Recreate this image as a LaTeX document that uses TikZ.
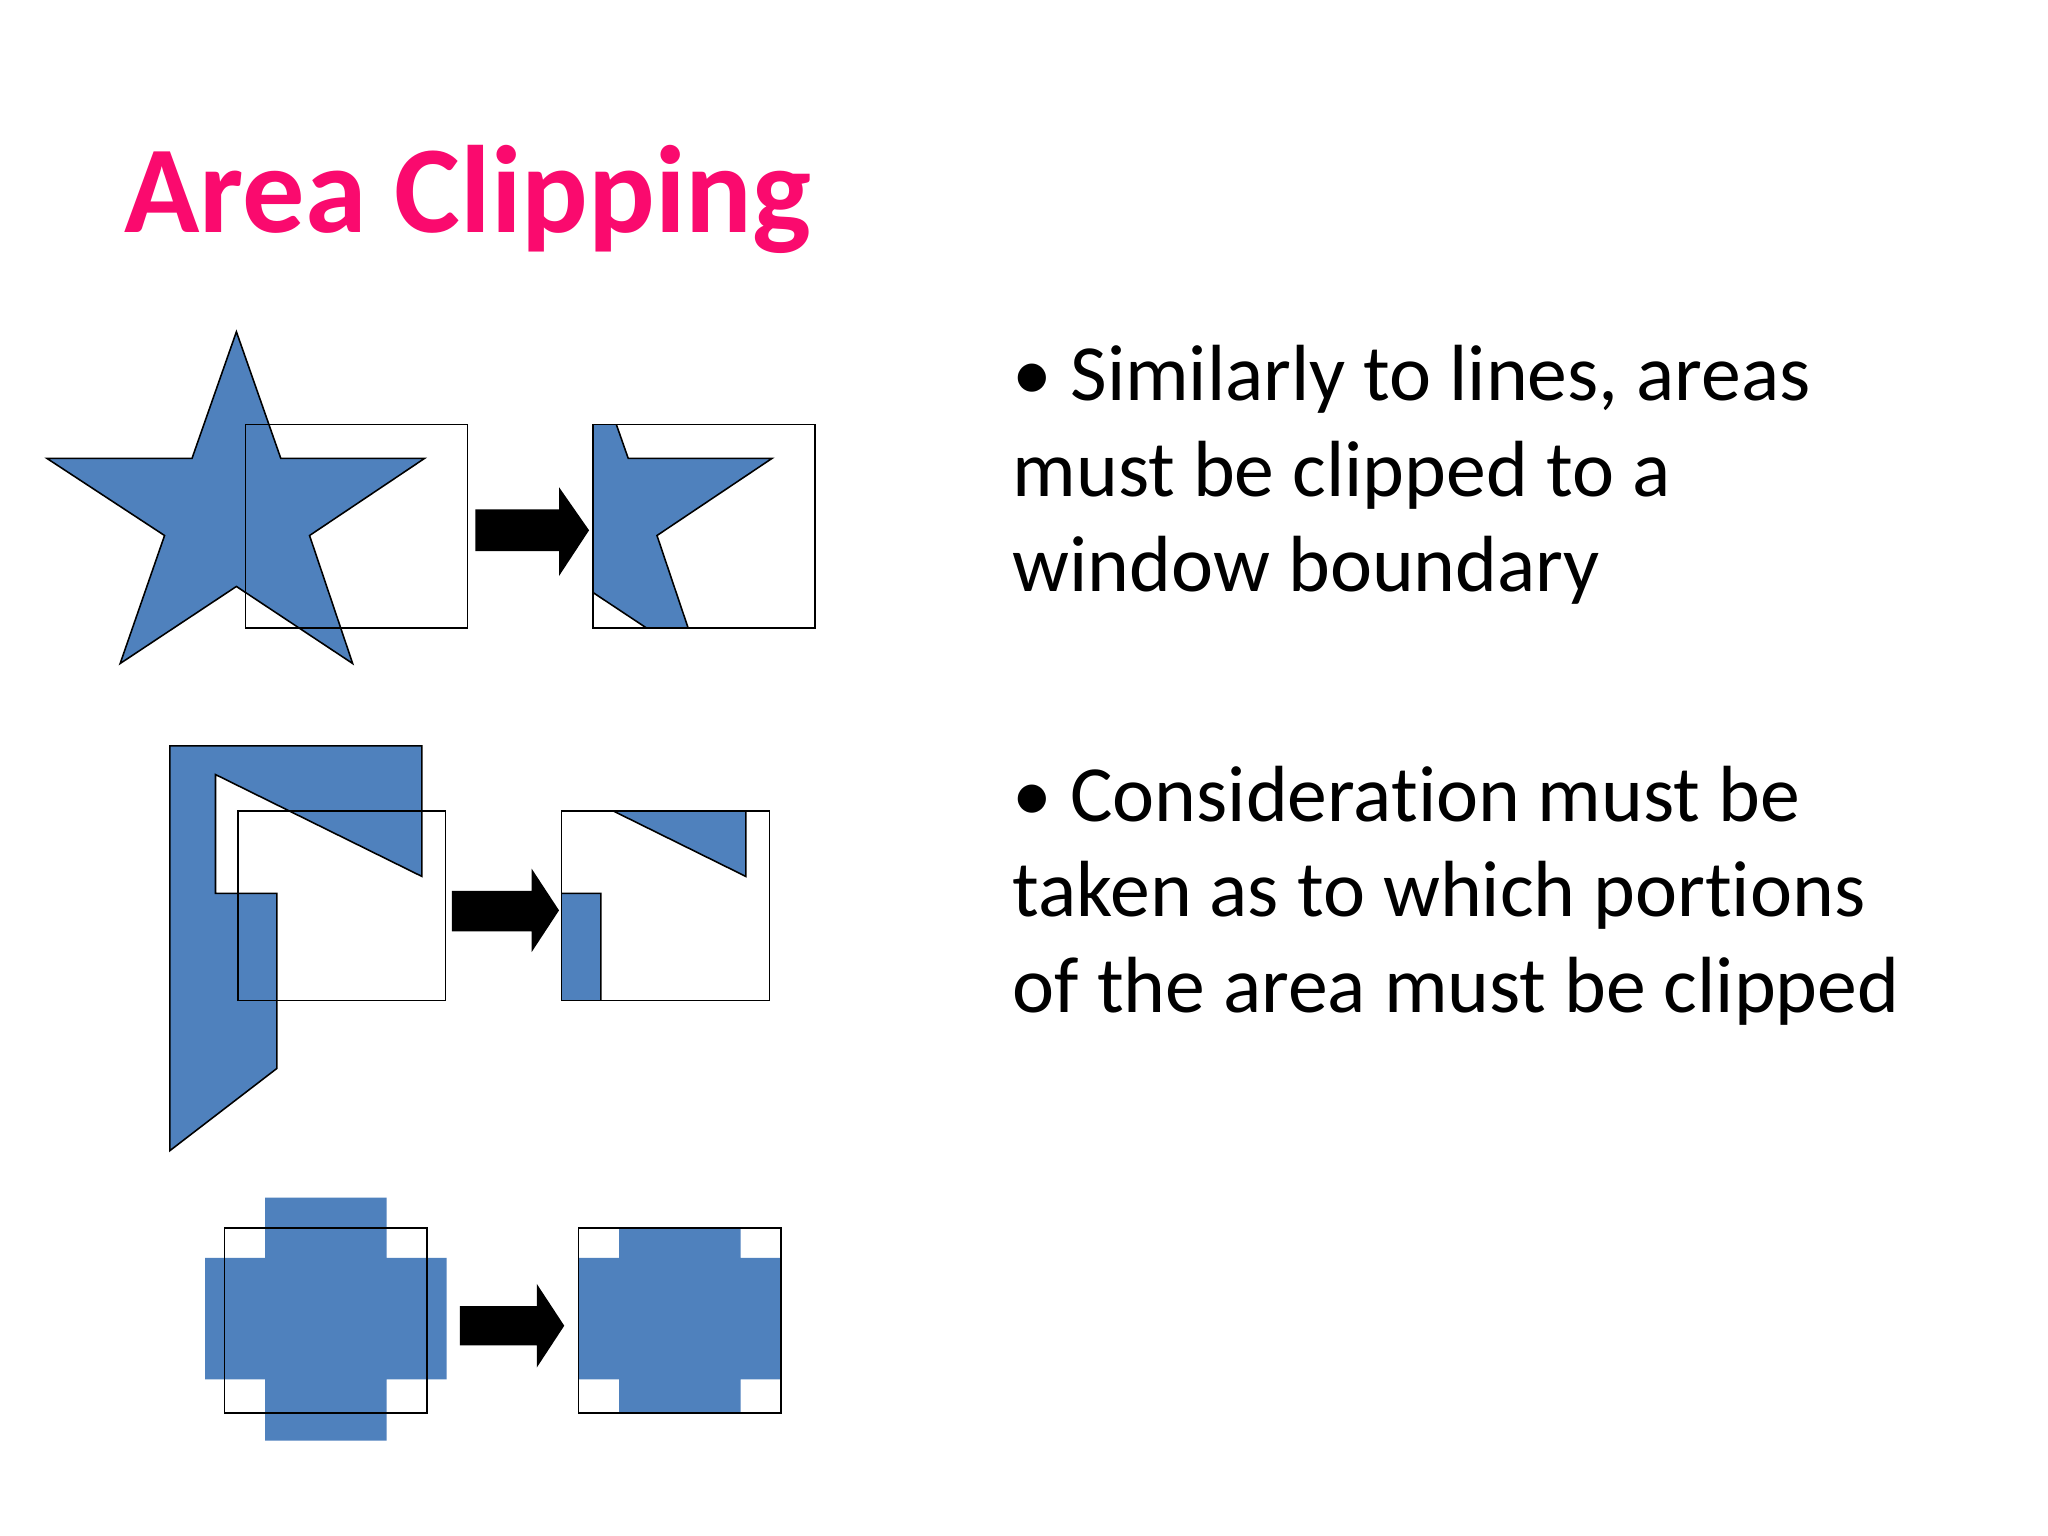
\documentclass[tikz,border=0pt]{standalone}
\usepackage{fontspec}
\setmainfont{Carlito}[Ligatures=NoCommon]
\definecolor{shp}{RGB}{79,129,189}
\definecolor{ttl}{RGB}{250,10,110}
\begin{document}
\begin{tikzpicture}[x=0.5pt,y=-0.5pt,
  win/.style={draw=black,line width=0.6pt},
  fillshape/.style={fill=shp,draw=black,line width=0.6pt},
  txt/.style={anchor=base west,inner sep=0,font=\fontsize{30.5}{36.5}\selectfont},
  bigarrow/.style={fill=black}]
\useasboundingbox (0,0) rectangle (1568,1176);
\fill[white] (0,0) rectangle (1568,1176);
\node[anchor=base west,inner sep=0,text=ttl,font=\bfseries\fontsize{47.6}{57}\selectfont] (title) at (95,178) {Area Clipping};
\node[txt] (l1) at (775,307) {\textbullet\ Similarly to lines, areas};
\node[txt] (l2) at (775,380) {must be clipped to a};
\node[txt] (l3) at (775,453) {window boundary};
\node[txt] (l4) at (775,629) {\textbullet\ Consideration must be};
\node[txt] (l5) at (775,702) {taken as to which portions};
\node[txt] (l6) at (775,775) {of the area must be clipped};
% star
\def\star{(181,254) -- (215,351) -- (325,351) -- (237,410) -- (270,508) -- (181,449) -- (92,508) -- (126,410) -- (36,351) -- (147,351) -- cycle}
\draw[fillshape] \star;
\draw[win] (188,325) rectangle (358,481);
\begin{scope}[shift={(266,0)}]
\begin{scope}\clip (188,325) rectangle (358,481);
\draw[fillshape] \star;\end{scope}
\draw[win] (188,325) rectangle (358,481);
\end{scope}
\fill[bigarrow] (364,390) -- (428,390) -- (428,373) -- (451,406) -- (428,441) -- (428,422) -- (364,422) -- cycle;
% L shape
\def\lshape{(130,571) -- (323,571) -- (323,671) -- (165,593) -- (165,684) -- (212,684) -- (212,818) -- (130,881) -- cycle}
\draw[fillshape] \lshape;
\draw[win] (182,621) rectangle (341,766);
\begin{scope}[shift={(248,0)}]
\begin{scope}\clip (182,621) rectangle (341,766);
\draw[fillshape] \lshape;\end{scope}
\draw[win] (182,621) rectangle (341,766);
\end{scope}
\fill[bigarrow] (346,682) -- (407,682) -- (407,665) -- (428,697) -- (407,729) -- (407,713) -- (346,713) -- cycle;
% cross
\def\cross{(203,917) -- (296,917) -- (296,963) -- (342,963) -- (342,1056) -- (296,1056) -- (296,1103) -- (203,1103) -- (203,1056) -- (157,1056) -- (157,963) -- (203,963) -- cycle}
\fill[shp] \cross;
\draw[win] (172,940) rectangle (327,1082);
\begin{scope}[shift={(271,0)}]
\begin{scope}\clip (172,940) rectangle (327,1082);
\fill[shp] \cross;\end{scope}
\draw[win] (172,940) rectangle (327,1082);
\end{scope}
\fill[bigarrow] (352,1000) -- (411,1000) -- (411,983) -- (432,1015) -- (411,1047) -- (411,1030) -- (352,1030) -- cycle;
\end{tikzpicture}
\end{document}
